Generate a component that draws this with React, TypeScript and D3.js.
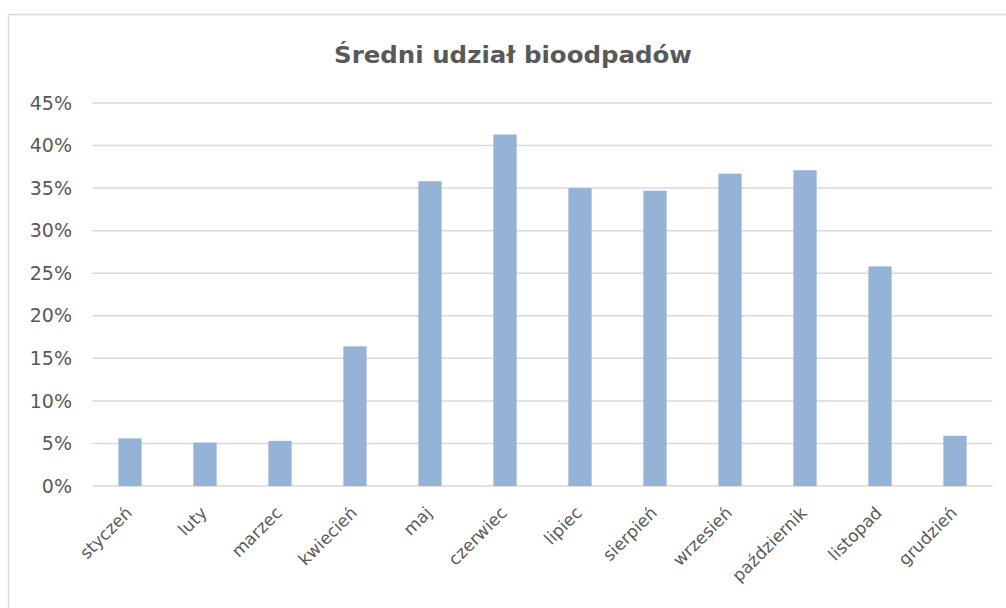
import React from "react";
import * as d3 from "d3";

const months = ["styczeń","luty","marzec","kwiecień","maj","czerwiec","lipiec","sierpień","wrzesień","październik","listopad","grudzień"];
const shares = [5.6, 5.1, 5.3, 16.4, 35.8, 41.3, 35.0, 34.7, 36.7, 37.1, 25.8, 5.9];
const yTicks = [0, 5, 10, 15, 20, 25, 30, 35, 40, 45];
const title = "Średni udział bioodpadów";

const W = 1006, H = 608;
const FONT = "'DejaVu Sans', sans-serif";

export default function App() {
  const x = d3.scaleBand<string>().domain(months).range([92.5, 992.5]).paddingInner(0.69).paddingOuter(0.345);
  const y = d3.scaleLinear().domain([0, 45]).range([486, 103]);
  return (
    <svg width={W} height={H} style={{ position: "absolute", left: 0, top: 0 }}>
      <rect x={0} y={0} width={W} height={H} fill="#fff" />
      <rect x={8.5} y={14.5} width={1100} height={700} fill="#fff" stroke="#d9d9d9" strokeWidth={1.5} />
      <text x={513} y={63} textAnchor="middle" fontFamily={FONT} fontWeight="bold" fontSize={23} fill="#595959" textLength={358} lengthAdjust="spacingAndGlyphs">{title}</text>
      {yTicks.map(t => (
        <g key={t}>
          <line x1={92.5} x2={992.5} y1={y(t)} y2={y(t)} stroke="#d9d9d9" strokeWidth={1.5} />
          <text x={72} y={y(t)} dy="0.35em" textAnchor="end" fontFamily={FONT} fontSize={19} fill="#595959">{t + "%"}</text>
        </g>
      ))}
      {months.map((m, i) => (
        <rect key={m} x={x(m)} y={y(shares[i])} width={x.bandwidth()} height={y(0) - y(shares[i])} fill="#95b3d7" />
      ))}
      {months.map(m => {
        const cx = (x(m) as number) + x.bandwidth() / 2 + 3;
        const cy = 514;
        return (
          <text key={m} x={cx} y={cy} transform={`rotate(-45 ${cx} ${cy})`} textAnchor="end" fontFamily={FONT} fontSize={17} fill="#595959">{m}</text>
        );
      })}
    </svg>
  );
}
